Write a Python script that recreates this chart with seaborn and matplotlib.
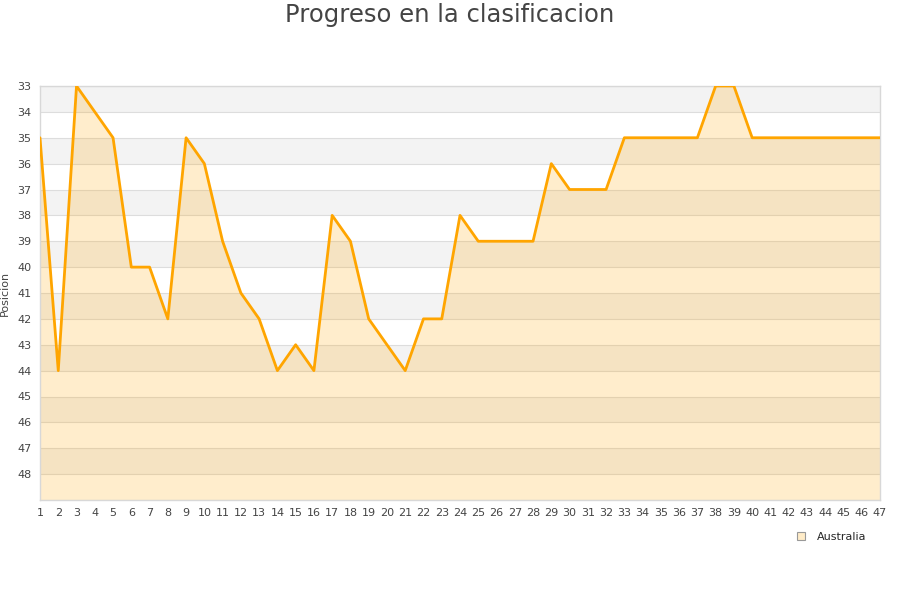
import matplotlib
matplotlib.use("Agg")
import matplotlib.pyplot as plt
import seaborn as sns
import pandas as pd
from matplotlib.lines import Line2D

jornadas = list(range(1, 48))
posicion = [35, 44, 33, 34, 35, 40, 40, 42, 35, 36,
            39, 41, 42, 44, 43, 44, 38, 39, 42, 43,
            44, 42, 42, 38, 39, 39, 39, 39, 36, 37,
            37, 37, 35, 35, 35, 35, 35, 33, 33, 35,
            35, 35, 35, 35, 35, 35, 35]
y_ticks = list(range(33, 49))
title = "Progreso en la clasificacion"
ylabel = "Posicion"
team = "Australia"

df = pd.DataFrame({"Jornada": jornadas, "Posicion": posicion})

sns.set_theme(style="white")
plt.rcParams['font.family'] = ['DejaVu Sans']

fig = plt.figure(figsize=(9, 6), dpi=100)
ax = fig.add_axes([40/900, 1-500/600, 840/900, 414/600])

ymin, ymax = 33, 49
# alternating bands
for k in range(ymin, ymax, 2):
    ax.axhspan(k, k + 1, color="#f3f3f3", zorder=0, lw=0)
for k in y_ticks + [ymax]:
    ax.axhline(k, color="#dddddd", lw=0.8, zorder=1)

ax.fill_between(df["Jornada"], df["Posicion"], ymax, color="#FFA500", alpha=0.2, lw=0, zorder=2)
sns.lineplot(data=df, x="Jornada", y="Posicion", ax=ax, color="#FFA500", lw=2.0, zorder=3)

ax.set_xlim(1, 47)
ax.set_ylim(ymax, ymin)
ax.set_yticks(y_ticks)
ax.set_xticks(jornadas)
ax.tick_params(axis="both", labelsize=8, colors="#444444", length=0, pad=6)
ax.set_xlabel("")
ax.set_ylabel(ylabel, fontsize=8, color="#444444")
ax.yaxis.set_label_coords(-30/840, 0.5)
for s in ax.spines.values():
    s.set_color("#d8d8d8")
    s.set_linewidth(1)

fig.text(0.5, 1-15/600, title, fontsize=17.5, color="#444444", ha="center", va="center")

handle = Line2D([], [], marker="s", ls="", markersize=6, markerfacecolor="#ffecc8",
                markeredgecolor="#999999", markeredgewidth=0.8)
fig.legend([handle], [team], loc="center", bbox_to_anchor=(828/900, 1-537/600),
           frameon=False, fontsize=8, handletextpad=0.4)

fig.savefig("out.png", dpi=100)
